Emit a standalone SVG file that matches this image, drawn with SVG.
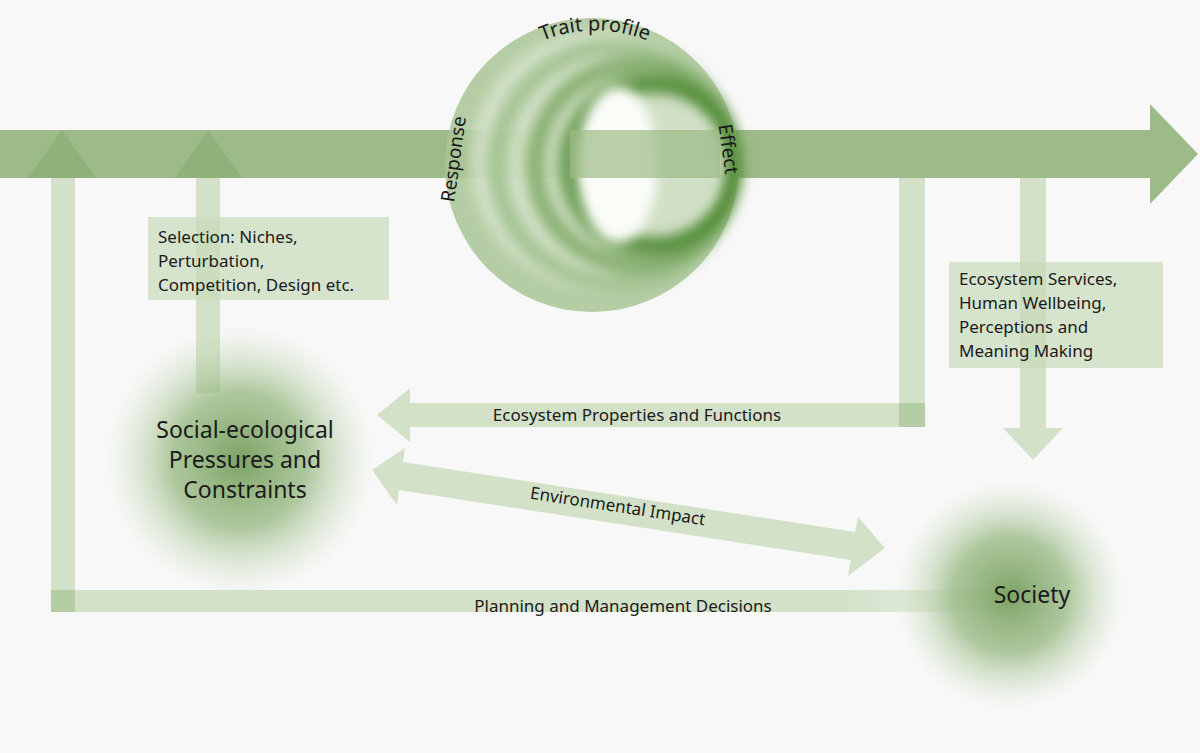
<svg xmlns="http://www.w3.org/2000/svg" width="1200" height="753" viewBox="0 0 1200 753">
<defs>
<style>
.t{font-family:"Noto Sans","DejaVu Sans",sans-serif;fill:#1a1a1a}
.s{font-size:17px}
.b{font-size:23px}
.main{fill:#9dbb88}
.lt{fill:#d3e1c8}
</style>
<radialGradient id="blob"><stop offset="0" stop-color="#6f9a55" stop-opacity="0.9"/><stop offset="0.5" stop-color="#8db276" stop-opacity="0.7"/><stop offset="1" stop-color="#c9dbbb" stop-opacity="0"/></radialGradient>
<filter id="bl" x="-30%" y="-30%" width="160%" height="160%"><feGaussianBlur stdDeviation="6"/></filter>
<path id="arc" d="M 470 110 A 138 138 0 0 1 720 110"/>
<linearGradient id="fade" x1="0" x2="1"><stop offset="0.8" stop-color="#d3e1c8"/><stop offset="1" stop-color="#d3e1c8" stop-opacity="0"/></linearGradient>
</defs>
<rect width="1200" height="753" fill="#f8f8f8"/>
<g id="connectors">
<rect class="lt" x="51" y="178" width="24" height="434"/>
<rect x="51" y="590" width="990" height="22" fill="url(#fade)"/>
<rect x="51" y="590" width="24" height="22" fill="#b5cda4"/>
<rect class="lt" x="196" y="178" width="24" height="215"/>
<rect class="lt" x="899" y="130" width="26" height="297"/>
<polygon class="lt" points="899,403 410,403 410,388 377,415 410,442 410,427 899,427"/>
<rect x="899" y="403" width="26" height="24" fill="#b5cda4"/>
<polygon class="lt" points="372,470 405,448 403,462 855,532 858,517 885,548 848,576 851,560 399,490 397,505"/>
<rect class="lt" x="1020" y="178" width="26" height="250"/>
<polygon class="lt" points="1003,428 1063,428 1033,460"/>
<polygon class="main" points="0,130 1150,130 1150,104 1198,154 1150,204 1150,178 0,178"/>
<polygon points="28,178 96,178 62,130" fill="#8eb27a"/>
<polygon points="175,178 242,178 208,130" fill="#8eb27a"/>
</g>
<g id="selection"><rect x="148" y="217" width="241" height="83" fill="#c9dbbb" opacity="0.7"/>
<text class="t s" x="158" y="243">Selection: Niches,</text><text class="t s" x="158" y="267">Perturbation,</text><text class="t s" x="158" y="291">Competition, Design etc.</text></g>
<g id="services"><rect x="949" y="262" width="214" height="106" fill="#c9dbbb" opacity="0.7"/>
<text class="t s" x="959" y="285">Ecosystem Services,</text><text class="t s" x="959" y="309">Human Wellbeing,</text><text class="t s" x="959" y="333">Perceptions and</text><text class="t s" x="959" y="357">Meaning Making</text></g>
<g id="labels">
<text class="t s" x="637" y="421" text-anchor="middle">Ecosystem Properties and Functions</text>
<text class="t s" x="617" y="512" text-anchor="middle" transform="rotate(8.7 617 512)">Environmental Impact</text>
<text class="t s" x="623" y="612" text-anchor="middle">Planning and Management Decisions</text>
</g>
<g id="pressures"><circle cx="240" cy="460" r="135" fill="url(#blob)"/>
<text class="t b" x="245" y="438" text-anchor="middle">Social-ecological</text><text class="t b" x="245" y="468" text-anchor="middle">Pressures and</text><text class="t b" x="245" y="498" text-anchor="middle">Constraints</text></g>
<g id="society"><circle cx="1010" cy="595" r="115" fill="url(#blob)"/>
<text class="t b" x="1032" y="603" text-anchor="middle">Society</text></g>
<g id="trait">
<circle cx="592" cy="165" r="147" fill="#a9c697" opacity="0.85"/>
<circle cx="600" cy="160" r="130" fill="#e3ecdb" opacity="0.6" filter="url(#bl)"/>
<g fill="none" filter="url(#bl)">
<circle cx="615" cy="165" r="118" stroke="#8cb476" stroke-width="18" opacity="0.6"/>
<circle cx="635" cy="165" r="100" stroke="#6f9f55" stroke-width="18" opacity="0.7"/>
<circle cx="650" cy="165" r="85" stroke="#5f9544" stroke-width="16" opacity="0.75"/>
<circle cx="655" cy="165" r="78" stroke="#4f8a35" stroke-width="14" opacity="0.8"/>
</g>
<ellipse cx="618" cy="165" rx="40" ry="78" fill="#fafcf8" filter="url(#bl)"/>
<rect x="570" y="130" width="150" height="48" fill="#9dbb88" opacity="0.7"/>
<text class="t s" font-size="20"><textPath href="#arc" startOffset="50%" text-anchor="middle" style="font-size:20px">Trait profile</textPath></text>
<text class="t" style="font-size:19px" x="460" y="160" text-anchor="middle" transform="rotate(-82 460 160)">Response</text>
<text class="t" style="font-size:19px" x="722" y="150" text-anchor="middle" transform="rotate(82 722 150)">Effect</text>
</g>
</svg>
